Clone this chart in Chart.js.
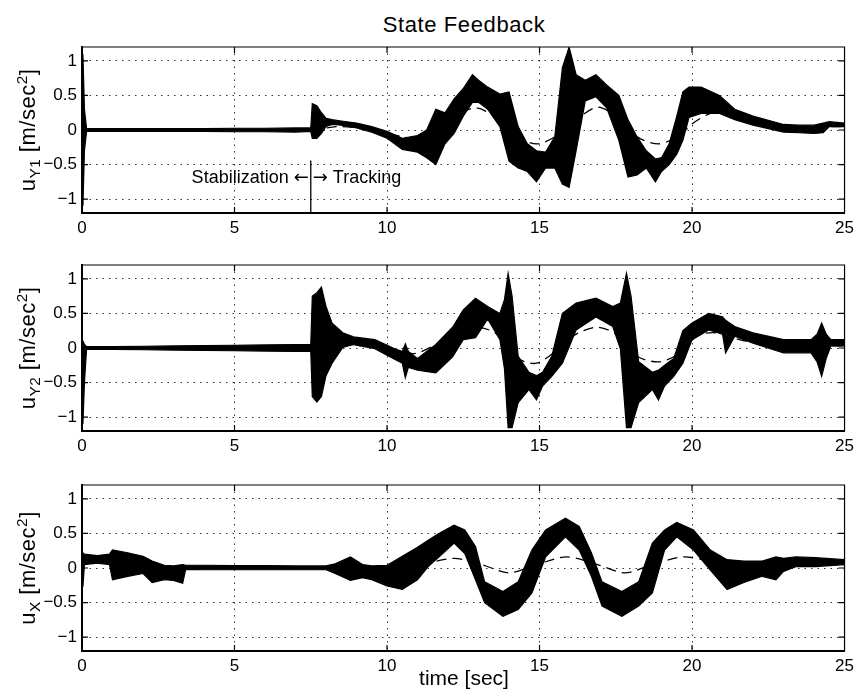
<!DOCTYPE html>
<html>
<head>
<meta charset="utf-8">
<script src="https://cdn.jsdelivr.net/npm/chart.js@4.4.1/dist/chart.umd.min.js"></script>
<style>
  html, body { margin: 0; padding: 0; background: #fff; }
  #page { position: relative; width: 859px; height: 699px; overflow: hidden;
          font-family: 'Liberation Sans', Arial, sans-serif; color: #000; }
  .panel { position: absolute; left: 0; width: 859px; height: 218px; }
  .title { position: absolute; left: 464px; top: 14px; font-size: 22px; line-height: 22px;
           letter-spacing: 0.6px; white-space: nowrap; transform: translateX(-50%); }
  .xlab { position: absolute; left: 464px; top: 667px; font-size: 21px; line-height: 21px;
          white-space: nowrap; transform: translateX(-50%); }
  .ylab { position: absolute; left: 28px; font-size: 22px; line-height: 22px; white-space: nowrap;
          letter-spacing: 0.5px; transform: translate(-50%, -50%) rotate(-90deg); }
  .ylab sub, .ylab sup { font-size: 70%; line-height: 0; }
</style>
</head>
<body>
<div id="page">
  <div class="title">State Feedback</div>
  <div class="panel" style="top:27px"><canvas id="c1" width="859" height="218"></canvas></div>
  <div class="panel" style="top:245px"><canvas id="c2" width="859" height="218"></canvas></div>
  <div class="panel" style="top:465px"><canvas id="c3" width="859" height="218"></canvas></div>
  <div class="ylab" style="top:130px">u<sub>Y1</sub> [m/sec<sup>2</sup>]</div>
  <div class="ylab" style="top:348px">u<sub>Y2</sub> [m/sec<sup>2</sup>]</div>
  <div class="ylab" style="top:568px">u<sub>X</sub> [m/sec<sup>2</sup>]</div>
  <div class="xlab">time [sec]</div>
</div>

<script>
/* ── axes ───────────────────────────────────────────────────── */
const X_TICKS = [0, 5, 10, 15, 20, 25];
const Y_TICKS = [-1, -0.5, 0, 0.5, 1];

/* ── u_Y1 : envelope of the noisy trace + dashed reference ─── */
const T_Y1  = [0, 0.03, 0.08, 0.15, 1, 2, 3, 4, 5, 6, 7, 7.5, 7.55, 7.7, 7.85, 8.0, 8.2, 8.5, 9.0, 9.5,
               10.0, 10.5, 11.0, 11.3, 11.6, 11.9, 12.2, 12.5, 12.8, 13.0, 13.3, 13.7, 14.0, 14.3, 14.6, 14.9,
               15.2, 15.5, 15.75, 15.97, 16.2, 16.5, 16.85, 17.2, 17.6, 17.9, 18.2, 18.5, 18.8, 19.0, 19.25,
               19.5, 19.7, 19.9, 20.3, 20.9, 21.4, 22.0, 22.5, 23.0, 23.5, 24.0, 24.3, 24.5, 25];
const HI_Y1 = [0.02, 1.1, 0.3, 0.02, 0.02, 0.02, 0.02, 0.02, 0.025, 0.025, 0.03, 0.03, 0.38, 0.35, 0.25, 0.17, 0.15, 0.13, 0.1, 0.05,
               -0.02, -0.12, -0.08, 0.0, 0.3, 0.25, 0.45, 0.6, 0.8, 0.72, 0.62, 0.52, 0.55, 0.05, -0.2, -0.3,
               -0.32, -0.1, 0.9, 1.2, 0.8, 0.72, 0.8, 0.65, 0.5, 0.15, -0.1, -0.3, -0.42, -0.4, -0.2,
               0.2, 0.55, 0.62, 0.62, 0.5, 0.3, 0.2, 0.14, 0.08, 0.07, 0.07, 0.1, 0.12, 0.1];
const LO_Y1 = [-0.02, -1.1, -0.3, -0.02, -0.02, -0.02, -0.02, -0.02, -0.025, -0.025, -0.03, -0.02, -0.12, -0.12, -0.05, 0.05, 0.08, 0.07, 0.03, -0.03,
               -0.12, -0.28, -0.32, -0.4, -0.5, -0.2, -0.05, 0.2, 0.4, 0.4, 0.3, 0.05, -0.45, -0.55, -0.6, -0.75,
               -0.55, -0.55, -0.78, -0.83, -0.3, 0.42, 0.48, 0.32, -0.15, -0.68, -0.65, -0.55, -0.75, -0.6, -0.5,
               -0.35, -0.15, 0.18, 0.24, 0.24, 0.15, 0.07, 0.02, -0.03, -0.04, -0.05, -0.04, 0.05, 0.05];
const REF_T_Y1 = [7.5, 8.5, 9.5, 10.0, 10.9, 11.5, 12.2, 12.9, 13.5, 14.2, 14.9, 15.5, 16.2, 16.9, 17.5,
                  18.2, 18.9, 19.5, 20.1, 20.7, 21.3, 22.0, 23.0, 24.0, 25.0];
const REF_Y1   = [0, 0.05, 0.0, -0.05, -0.12, -0.05, 0.2, 0.32, 0.2, -0.08, -0.2, -0.1, 0.15, 0.33, 0.2,
                  -0.1, -0.2, -0.1, 0.12, 0.25, 0.2, 0.1, 0.06, 0.05, 0.05];

/* ── u_Y2 ───────────────────────────────────────────────────── */
const T_Y2  = [0, 0.03, 0.08, 0.15, 1, 2, 3, 4, 5, 6, 7, 7.5, 7.55, 7.7, 7.85, 8.0, 8.2, 8.55, 8.9, 9.6,
               10.2, 10.5, 10.6, 10.7, 11.0, 11.6, 12.15, 12.5, 12.9, 13.3, 13.7, 13.85, 13.97, 14.1, 14.3, 14.65,
               14.9, 15.1, 15.4, 15.75, 16.2, 16.85, 17.4, 17.65, 17.85, 18.0, 18.25, 18.7, 18.9, 19.1, 19.4,
               19.7, 20.0, 20.55, 21.0, 21.1, 21.4, 22.0, 23.0, 23.9, 24.1, 24.25, 24.4, 24.55, 25];
const HI_Y2 = [0.03, 0.1, 0.05, 0.02, 0.02, 0.025, 0.03, 0.035, 0.04, 0.045, 0.05, 0.05, 0.75, 0.8, 0.88, 0.6, 0.36, 0.22, 0.16, 0.12,
               0.0, -0.05, 0.06, -0.05, -0.15, 0.05, 0.3, 0.55, 0.72, 0.6, 0.5, 0.7, 1.08, 0.75, -0.12, -0.35,
               -0.4, -0.35, -0.12, 0.5, 0.65, 0.72, 0.6, 0.65, 1.08, 0.75, -0.2, -0.35, -0.32, -0.25, -0.15,
               0.25, 0.36, 0.5, 0.45, 0.4, 0.31, 0.22, 0.12, 0.12, 0.2, 0.36, 0.2, 0.12, 0.12];
const LO_Y2 = [-0.03, -1.1, -0.5, -0.02, -0.02, -0.025, -0.03, -0.035, -0.04, -0.045, -0.05, -0.05, -0.7, -0.78, -0.7, -0.4, -0.22, 0.01, 0.05, -0.01,
               -0.15, -0.22, -0.43, -0.28, -0.32, -0.36, -0.13, 0.12, 0.15, 0.42, 0.12, -0.3, -1.15, -1.15, -0.79, -0.6,
               -0.75, -0.55, -0.41, -0.22, 0.26, 0.45, 0.31, -0.01, -1.15, -1.15, -0.79, -0.6, -0.75, -0.55, -0.41,
               -0.22, 0.12, 0.26, 0.2, -0.07, 0.17, 0.07, -0.07, -0.07, -0.2, -0.41, -0.15, 0.03, 0.03];
const REF_T_Y2 = [7.5, 8.5, 9.5, 10.2, 10.9, 11.6, 12.3, 13.0, 13.6, 14.3, 14.9, 15.6, 16.2, 16.9, 17.5,
                  18.2, 18.9, 19.5, 20.2, 20.8, 21.4, 22.0, 23.0, 24.0, 25.0];
const REF_Y2   = [0, 0.05, 0.02, -0.03, -0.08, 0.05, 0.24, 0.3, 0.2, -0.15, -0.22, -0.02, 0.2, 0.3, 0.2,
                  -0.12, -0.2, -0.1, 0.18, 0.22, 0.14, 0.08, 0.04, 0.03, 0.03];

/* ── u_X ────────────────────────────────────────────────────── */
const T_X  = [0, 0.03, 0.08, 0.5, 0.9, 1.0, 1.5, 2.0, 2.3, 2.7, 3.0, 3.3, 3.4, 4, 5, 6, 7, 8, 8.3, 8.5,
              8.8, 9.2, 9.5, 10.0, 10.5, 11.0, 11.35, 11.7, 12.2, 12.55, 12.9, 13.2, 13.8, 14.3, 14.75, 15.2,
              15.85, 16.3, 16.7, 17.05, 17.7, 18.25, 18.7, 19.1, 19.5, 20.05, 20.6, 21.15, 21.7, 22.3, 22.75,
              23.0, 23.4, 24.05, 25];
const HI_X = [0.12, 0.22, 0.2, 0.18, 0.2, 0.26, 0.22, 0.17, 0.1, 0.04, 0.03, 0.05, 0.04, 0.04, 0.035, 0.035, 0.03, 0.03, 0.06, 0.1,
              0.16, 0.05, 0.03, 0.04, 0.17, 0.3, 0.4, 0.5, 0.62, 0.55, 0.31, -0.2, -0.34, -0.2, 0.26, 0.55,
              0.72, 0.6, 0.22, -0.2, -0.34, -0.2, 0.36, 0.55, 0.66, 0.55, 0.26, 0.12, 0.1, 0.1, 0.16,
              0.14, 0.16, 0.15, 0.12];
const LO_X = [0.05, -0.27, 0.05, 0.07, 0.05, -0.17, -0.12, -0.08, -0.21, -0.17, -0.18, -0.22, -0.02, -0.025, -0.025, -0.025, -0.025, -0.025, -0.08, -0.12,
              -0.18, -0.14, -0.17, -0.26, -0.31, -0.17, 0.02, 0.16, 0.36, 0.21, -0.17, -0.5, -0.7, -0.6, -0.36, 0.16,
              0.45, 0.26, -0.12, -0.55, -0.7, -0.55, -0.36, 0.26, 0.45, 0.26, -0.03, -0.31, -0.21, -0.12, -0.17,
              -0.05, 0.02, 0.02, 0.05];
const REF_T_X = [7.5, 8.5, 9.5, 10.3, 11.2, 12.2, 13.1, 14.0, 14.9, 15.9, 16.9, 17.8, 18.7, 19.7, 20.6, 21.5, 22.5, 25];
const REF_X   = [0, 0.02, -0.03, -0.07, 0.05, 0.14, 0.05, -0.07, 0.05, 0.16, 0.05, -0.07, 0.05, 0.16, 0.1, 0.05, 0.05, 0.05];

/* ── Chart.js defaults ──────────────────────────────────────── */
Chart.defaults.font.family = "'Liberation Sans', Arial, sans-serif";
Chart.defaults.font.size = 17;
Chart.defaults.color = "#000";

const TEXT_FONT = "18px 'Liberation Sans', Arial, sans-serif";
const ARROW_FONT = "18px 'DejaVu Sans', sans-serif";

function pts(ts, vs) {
    return ts.map((t, i) => ({ x: t, y: vs[i] }));
}

function minusLabel(v) {
    return v < 0 ? "\u2212" + Math.abs(v) : String(v);
}

// top/right frame, MATLAB style inward ticks, optional annotation
const framePlugin = {
    id: "frame",
    afterDraw(chart, args, opts) {
        const { ctx, chartArea: a, scales: { x, y } } = chart;
        ctx.save();
        ctx.strokeStyle = "#000";
        ctx.lineWidth = 1.2;
        ctx.beginPath();
        ctx.moveTo(a.left, a.top);
        ctx.lineTo(a.right, a.top);
        ctx.lineTo(a.right, a.bottom);
        X_TICKS.forEach(v => {
            const px = x.getPixelForValue(v);
            ctx.moveTo(px, a.bottom); ctx.lineTo(px, a.bottom - 6);
            ctx.moveTo(px, a.top); ctx.lineTo(px, a.top + 6);
        });
        Y_TICKS.forEach(v => {
            const py = y.getPixelForValue(v);
            ctx.moveTo(a.left, py); ctx.lineTo(a.left + 6, py);
            ctx.moveTo(a.right, py); ctx.lineTo(a.right - 6, py);
        });
        ctx.stroke();

        if (opts.note) {
            const n = opts.note;
            const px = x.getPixelForValue(n.x);
            ctx.lineWidth = 1.3;
            ctx.beginPath();
            ctx.moveTo(px, y.getPixelForValue(n.lineTop));
            ctx.lineTo(px, a.bottom);
            ctx.stroke();
            ctx.fillStyle = "#000";
            ctx.textBaseline = "alphabetic";
            const by = y.getPixelForValue(n.textY);
            // left side: "Stabilization ←"
            ctx.font = ARROW_FONT;
            const aw = ctx.measureText("\u2190").width;
            ctx.textAlign = "right";
            ctx.fillText("\u2190", px - 2, by);
            ctx.font = TEXT_FONT;
            ctx.fillText(n.left + " ", px - 2 - aw, by);
            // right side: "→ Tracking"
            ctx.font = ARROW_FONT;
            ctx.textAlign = "left";
            ctx.fillText("\u2192", px + 2, by);
            const bw = ctx.measureText("\u2192").width;
            ctx.font = TEXT_FONT;
            ctx.fillText(" " + n.right, px + 2 + bw, by);
        }
        ctx.restore();
    }
};

function makePanel(id, t, hi, lo, refT, ref, note) {
    return new Chart(document.getElementById(id), {
        type: "line",
        data: {
            datasets: [
                { data: pts(t, hi), borderColor: "#000", backgroundColor: "#000", borderWidth: 1.2,
                  pointRadius: 0, fill: "+1", tension: 0 },
                { data: pts(t, lo), borderColor: "#000", borderWidth: 1.2,
                  pointRadius: 0, fill: false, tension: 0 },
                { data: pts(refT, ref), borderColor: "#000", borderWidth: 1.3, borderDash: [10, 6],
                  pointRadius: 0, fill: false, tension: 0.3 },
            ]
        },
        options: {
            responsive: false,
            animation: false,
            layout: { padding: { left: 42, right: 13, top: 20, bottom: 2 } },
            plugins: {
                legend: { display: false },
                tooltip: { enabled: false },
                frame: { note: note || null }
            },
            scales: {
                x: {
                    type: "linear", min: 0, max: 25,
                    afterBuildTicks: s => { s.ticks = X_TICKS.map(v => ({ value: v })); },
                    afterFit: s => { s.height = 30; },
                    ticks: { autoSkip: false, maxRotation: 0, padding: 5, font: { size: 17 } },
                    grid: { color: "rgba(0,0,0,0.8)", lineWidth: 1, drawTicks: false },
                    border: { display: true, color: "#000", width: 2, dash: [1.5, 5] }
                },
                y: {
                    type: "linear", min: -1.2, max: 1.2,
                    afterBuildTicks: s => { s.ticks = Y_TICKS.map(v => ({ value: v })); },
                    afterFit: s => { s.width = 40; },
                    ticks: { callback: minusLabel, padding: 5, font: { size: 17 } },
                    grid: { color: "rgba(0,0,0,0.8)", lineWidth: 1, drawTicks: false },
                    border: { display: true, color: "#000", width: 2, dash: [1.5, 5] }
                }
            }
        },
        plugins: [framePlugin]
    });
}

makePanel("c1", T_Y1, HI_Y1, LO_Y1, REF_T_Y1, REF_Y1,
          { x: 7.5, lineTop: -0.44, textY: -0.77, left: "Stabilization", right: "Tracking" });
makePanel("c2", T_Y2, HI_Y2, LO_Y2, REF_T_Y2, REF_Y2);
makePanel("c3", T_X, HI_X, LO_X, REF_T_X, REF_X);
</script>
</body>
</html>
